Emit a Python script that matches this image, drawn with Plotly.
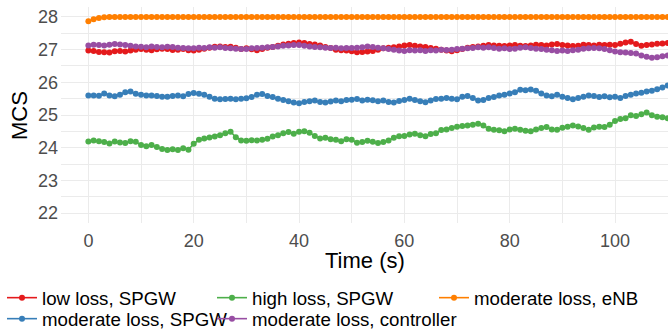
import plotly.graph_objects as go

time_s = list(range(0, 111))

low_loss_spgw = [
    26.97, 26.96, 26.93, 26.92, 26.91, 26.95, 26.96, 26.94, 26.97, 27.00,
    27.02, 27.00, 26.98, 27.01, 27.03, 27.02, 26.99, 27.00, 27.02, 26.98,
    26.97, 27.00, 27.03, 27.06, 27.09, 27.10, 27.08, 27.09, 27.06, 27.02,
    27.04, 27.01, 26.98, 27.02, 27.06, 27.08, 27.12, 27.16, 27.18, 27.20,
    27.22, 27.20, 27.17, 27.16, 27.13, 27.08, 27.05, 27.00, 26.98, 26.97,
    26.95, 26.92, 26.93, 26.94, 26.96, 27.00, 27.04, 27.06, 27.07, 27.10,
    27.13, 27.14, 27.12, 27.10, 27.08, 27.05, 27.03, 27.00, 26.97, 26.95,
    26.98, 27.02, 27.06, 27.08, 27.10, 27.12, 27.14, 27.13, 27.12, 27.11,
    27.13, 27.14, 27.12, 27.11, 27.13, 27.15, 27.14, 27.13, 27.16, 27.17,
    27.14, 27.13, 27.11, 27.12, 27.15, 27.14, 27.13, 27.15, 27.14, 27.15,
    27.14, 27.18, 27.22, 27.24, 27.17, 27.12, 27.14, 27.16, 27.18, 27.19,
    27.20,
]

high_loss_spgw = [
    24.19, 24.22, 24.20, 24.17, 24.13, 24.19, 24.16, 24.14, 24.20, 24.18,
    24.08, 24.04, 24.08, 24.02, 23.96, 23.93, 23.95, 23.93, 23.98, 23.94,
    24.12, 24.24, 24.28, 24.31, 24.34, 24.38, 24.44, 24.49, 24.32, 24.22,
    24.21, 24.23, 24.22, 24.24, 24.27, 24.34, 24.38, 24.44, 24.48, 24.43,
    24.49, 24.50, 24.46, 24.36, 24.28, 24.30, 24.26, 24.24, 24.20, 24.26,
    24.24, 24.15, 24.17, 24.21, 24.18, 24.14, 24.17, 24.22, 24.30, 24.35,
    24.36, 24.40, 24.43, 24.38, 24.35, 24.42, 24.44, 24.54, 24.56, 24.60,
    24.64, 24.66, 24.68, 24.70, 24.73, 24.68, 24.58, 24.55, 24.53, 24.50,
    24.56, 24.58, 24.55, 24.52, 24.50, 24.56, 24.60, 24.63, 24.56, 24.55,
    24.61, 24.64, 24.68, 24.65, 24.60, 24.55, 24.62, 24.64, 24.63, 24.70,
    24.82, 24.88, 24.90, 24.99, 24.97, 25.02, 25.08, 24.99, 24.95, 24.93,
    24.90,
]

moderate_loss_enb = [
    27.87, 27.93, 27.97, 27.99, 28.00, 28.00, 28.00, 28.00, 28.00, 28.00,
    28.00, 28.00, 28.00, 28.00, 28.00, 28.00, 28.00, 28.00, 28.00, 28.00,
    28.00, 28.00, 28.00, 28.00, 28.00, 28.00, 28.00, 28.00, 28.00, 28.00,
    28.00, 28.00, 28.00, 28.00, 28.00, 28.00, 28.00, 28.00, 28.00, 28.00,
    28.00, 28.00, 28.00, 28.00, 28.00, 28.00, 28.00, 28.00, 28.00, 28.00,
    28.00, 28.00, 28.00, 28.00, 28.00, 28.00, 28.00, 28.00, 28.00, 28.00,
    28.00, 28.00, 28.00, 28.00, 28.00, 28.00, 28.00, 28.00, 28.00, 28.00,
    28.00, 28.00, 28.00, 28.00, 28.00, 28.00, 28.00, 28.00, 28.00, 28.00,
    28.00, 28.00, 28.00, 28.00, 28.00, 28.00, 28.00, 28.00, 28.00, 28.00,
    28.00, 28.00, 28.00, 28.00, 28.00, 28.00, 28.00, 28.00, 28.00, 28.00,
    28.00, 28.00, 28.00, 28.00, 28.00, 28.00, 28.00, 28.00, 28.00, 28.00,
    28.00,
]

moderate_loss_spgw = [
    25.60, 25.60, 25.59, 25.66, 25.60, 25.57, 25.62, 25.70, 25.72, 25.65,
    25.62, 25.60, 25.60, 25.58, 25.56, 25.56, 25.58, 25.60, 25.57, 25.64,
    25.67, 25.65, 25.62, 25.56, 25.50, 25.48, 25.49, 25.50, 25.48, 25.50,
    25.51, 25.55, 25.62, 25.64, 25.58, 25.55, 25.50, 25.46, 25.42, 25.38,
    25.36, 25.40, 25.42, 25.44, 25.40, 25.38, 25.41, 25.44, 25.42, 25.46,
    25.47, 25.49, 25.44, 25.47, 25.45, 25.42, 25.44, 25.40, 25.38, 25.43,
    25.46, 25.50, 25.46, 25.42, 25.39, 25.44, 25.49, 25.50, 25.52, 25.50,
    25.48, 25.56, 25.58, 25.52, 25.44, 25.46, 25.52, 25.55, 25.60, 25.62,
    25.66, 25.70, 25.77, 25.76, 25.78, 25.74, 25.66, 25.60, 25.57, 25.62,
    25.56, 25.52, 25.48, 25.52, 25.56, 25.60, 25.58, 25.55, 25.57, 25.54,
    25.56, 25.52, 25.58, 25.62, 25.66, 25.68, 25.72, 25.74, 25.79, 25.84,
    25.90,
]

moderate_loss_controller = [
    27.13, 27.15, 27.14, 27.13, 27.15, 27.17, 27.16, 27.14, 27.12, 27.10,
    27.09, 27.07, 27.10, 27.08, 27.07, 27.09, 27.08, 27.06, 27.05, 27.04,
    27.04, 27.06, 27.05, 27.07, 27.06, 27.07, 27.05, 27.04, 27.03, 27.02,
    27.02, 27.04, 27.05, 27.06, 27.07, 27.08, 27.10, 27.12, 27.13, 27.14,
    27.14, 27.12, 27.10, 27.08, 27.07, 27.06, 27.05, 27.06, 27.04, 27.05,
    27.05, 27.06, 27.07, 27.10, 27.08, 27.06, 27.04, 27.02, 27.00, 26.97,
    26.96, 26.98, 26.97, 26.98, 26.96, 26.98, 26.97, 27.00, 26.99, 27.00,
    27.02, 27.03, 27.04, 27.05, 27.07, 27.06, 27.07, 27.05, 27.03, 27.04,
    27.02, 27.03, 27.06, 27.07, 27.05, 27.03, 27.02, 27.00, 26.98, 26.96,
    26.97, 26.96, 26.98, 27.00, 27.03, 27.04, 27.05, 27.04, 27.02, 26.98,
    26.94, 26.92, 26.91, 26.90, 26.88, 26.82, 26.78, 26.75, 26.77, 26.80,
    26.82,
]

x_ticks = [0, 20, 40, 60, 80, 100]
y_ticks = [22, 23, 24, 25, 26, 27, 28]

series = [
    ("low loss, SPGW", low_loss_spgw, "#E41A1C", "legend"),
    ("moderate loss, SPGW", moderate_loss_spgw, "#377EB8", "legend4"),
    ("high loss, SPGW", high_loss_spgw, "#4DAF4A", "legend2"),
    ("moderate loss, controller", moderate_loss_controller, "#984EA3", "legend5"),
    ("moderate loss, eNB", moderate_loss_enb, "#FF7F00", "legend3"),
]

FONT = "Liberation Sans, Arial, sans-serif"

fig = go.Figure()
for name, vals, col, lg in series:
    fig.add_trace(go.Scatter(
        x=time_s, y=vals, name=name, mode="lines+markers",
        line=dict(color=col, width=1.6),
        marker=dict(color=col, size=6),
        legend=lg, cliponaxis=True,
    ))

W, H = 668, 329
L, R, T, B = 61, 0, 7, 106
pw = W - L - R
ph = H - T - B

def px_x(px):
    return (px - L) / pw

def px_y(py):
    return (H - B - py) / ph

leg_font = dict(family=FONT, size=18.7, color="#000000")

def leg(xpx, ypx):
    return dict(x=px_x(xpx), y=px_y(ypx), xanchor="left", yanchor="middle",
                orientation="h", font=leg_font, bgcolor="rgba(0,0,0,0)",
                borderwidth=0)

fig.update_layout(
    width=W, height=H,
    margin=dict(l=L, r=R, t=T, b=B, autoexpand=False),
    paper_bgcolor="white", plot_bgcolor="white",
    font=dict(family=FONT),
    showlegend=True,
    legend=leg(2, 298),
    legend2=leg(212, 298),
    legend3=leg(434, 298),
    legend4=leg(2, 319),
    legend5=leg(212, 319),
    xaxis=dict(
        range=[-5.2, 110.06], tickmode="array", tickvals=x_ticks,
        ticktext=[str(v) for v in x_ticks],
        showgrid=True, gridcolor="#EBEBEB", gridwidth=1.1,
        minor=dict(dtick=10, tick0=0, showgrid=True, gridcolor="#EBEBEB", gridwidth=0.8),
        zeroline=False, showline=False, ticks="", ticklen=0, automargin=False,
        tickfont=dict(family=FONT, size=18, color="#4D4D4D"),
        ticklabelstandoff=5,
    ),
    yaxis=dict(
        range=[21.695, 28.305], tickmode="array", tickvals=y_ticks,
        ticktext=[str(v) for v in y_ticks],
        showgrid=True, gridcolor="#EBEBEB", gridwidth=1.1,
        minor=dict(dtick=0.5, tick0=0, showgrid=True, gridcolor="#EBEBEB", gridwidth=0.8),
        zeroline=False, showline=False, ticks="", ticklen=0, automargin=False,
        tickfont=dict(family=FONT, size=18, color="#4D4D4D"),
        ticklabelstandoff=2,
    ),
    annotations=[
        dict(text="MCS", x=px_x(19), y=px_y(116), xref="paper", yref="paper",
             textangle=-90, showarrow=False, xanchor="center", yanchor="middle",
             font=dict(family=FONT, size=22, color="#000000")),
        dict(text="Time (s)", x=0.5, y=px_y(260), xref="paper", yref="paper",
             showarrow=False, xanchor="center", yanchor="middle",
             font=dict(family=FONT, size=22, color="#000000")),
    ],
)

fig.write_html("out.html", config={"displayModeBar": False},
               post_script="document.body.style.margin='0';")
